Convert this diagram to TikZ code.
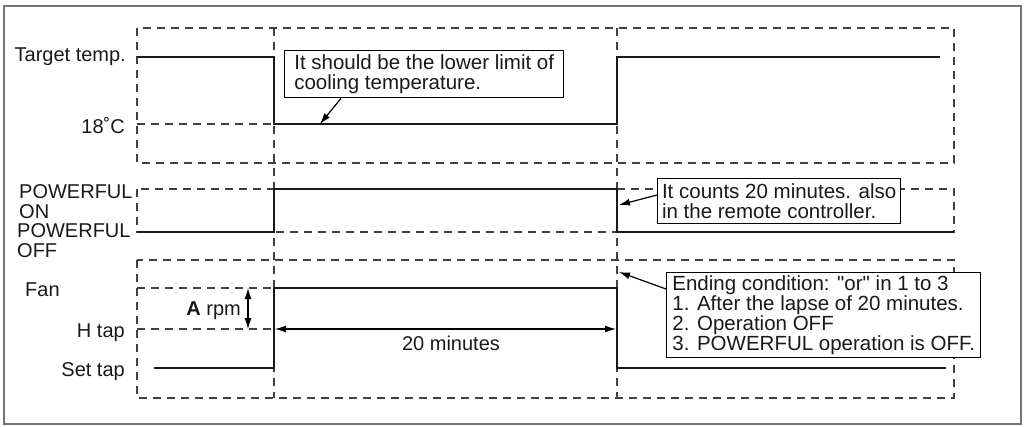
\documentclass[tikz,border=0pt]{standalone}
\usepackage{fontspec}
\setmainfont{Liberation Sans}[Ligatures=TeXOff]
\usetikzlibrary{arrows.meta}
\begin{document}
\begin{tikzpicture}[x=1pt,y=-1pt,
    sig/.style={line width=2.9pt,color=black!90},
    guide/.style={line width=1.3pt,color=black!75,dash pattern=on 8pt off 6pt},
    lbl/.style={inner sep=0pt,align=left,font=\fontsize{20}{19.5}\selectfont,text=black!90},
    callout/.style={draw,line width=1.4pt,fill=white,align=left,inner sep=0pt,anchor=north west,font=\fontsize{20.5}{20}\selectfont,text=black!90},
    pointer/.style={line width=1.2pt,-{Latex[length=11pt,width=7pt]}},
    span/.style={line width=1.2pt,{Latex[length=11pt,width=7pt]}-{Latex[length=11pt,width=7pt]}}]
	    \useasboundingbox(0,0)rectangle(1026,426);
	    \draw[line width=1.6pt,color=black!55](4,6)rectangle(1021,424);

	    % 枠と補助線
	    \draw[guide](137,28)rectangle(954,163);
	    \draw[guide](137,189)rectangle(954,232);
	    \draw[guide](137,260)rectangle(954,398);
	    \draw[guide](274,28)--(274,398);
	    \draw[guide](617,28)--(617,398);
	    \draw[guide](137,124)--(274,124);
	    \draw[guide](137,288)--(274,288);
	    \draw[guide](137,329)--(274,329);

	    % 目標温度
	    \coordinate(T0)at(137,57);
	    \coordinate(T1)at(274,57);
	    \coordinate(T2)at(274,124);
	    \coordinate(T3)at(617,124);
	    \coordinate(T4)at(617,57);
	    \coordinate(T5)at(940,57);
	    \draw[sig](T0)--(T1)--(T2)--(T3)--(T4)--(T5);

	    % POWERFUL
	    \coordinate(P0)at(137,232);
	    \coordinate(P1)at(274,232);
	    \coordinate(P2)at(274,189);
	    \coordinate(P3)at(617,189);
	    \coordinate(P4)at(617,232);
	    \coordinate(P5)at(954,232);
	    \draw[sig](P0)--(P1)--(P2)--(P3)--(P4)--(P5);

	    % ファン
	    \coordinate(F0)at(154,368);
	    \coordinate(F1)at(274,368);
	    \coordinate(F2)at(274,288);
	    \coordinate(F3)at(617,288);
	    \coordinate(F4)at(617,368);
	    \coordinate(F5)at(946,368);
	    \draw[sig](F0)--(F1)--(F2)--(F3)--(F4)--(F5);

	    \draw(126,61)node[lbl,anchor=base east](target){Target temp.};
	    \draw(125,133)node[lbl,anchor=base east](low){18˚C};
	    \draw(19,218)node[lbl,anchor=base west](pwon){POWERFUL\\ON};
	    \draw(17,257)node[lbl,anchor=base west](pwoff){POWERFUL\\OFF};
	    \draw(25,296)node[lbl,anchor=base west](fan){Fan};
	    \draw(125,337)node[lbl,anchor=base east](htap){H tap};
	    \draw(125,376)node[lbl,anchor=base east](settap){Set tap};

	    % A rpm
	    \coordinate(Atop)at(248,288);
	    \coordinate(Abot)at(248,329);
	    \draw[span](Atop)--(Abot);
	    \draw(241,315)node[lbl,anchor=base east](arpm){\textbf{A} rpm};

	    % 20 minutes
	    \coordinate(M0)at(275,329);
	    \coordinate(M1)at(616,329);
	    \draw[span](M0)--(M1);
	    \draw(451,350)node[lbl,anchor=base](twenty){20 minutes};

	    % 吹き出し
	    \node[callout,minimum width=279pt,minimum height=47pt](c1)at(284,50){It should be the lower limit of\\cooling temperature.};
	    \node[callout,minimum width=243pt,minimum height=45pt](c2)at(657,178){It counts 20 minutes. also\\in the remote controller.};
	    \node[callout,minimum width=314pt,minimum height=85pt](c3)at(666,272){Ending condition: "or" in 1 to 3\\1. After the lapse of 20 minutes.\\2. Operation OFF\\3. POWERFUL operation is OFF.};

	    \coordinate(c1tip)at(320,124);
	    \coordinate(c2tip)at(619,205);
	    \coordinate(c3tip)at(619,272);
	    \draw[pointer]([xshift=57pt]c1.south west)--(c1tip);
	    \draw[pointer]([yshift=-17pt]c2.north west)--(c2tip);
	    \draw[pointer]([yshift=-17pt]c3.north west)--(c3tip);
\end{tikzpicture}
\end{document}
